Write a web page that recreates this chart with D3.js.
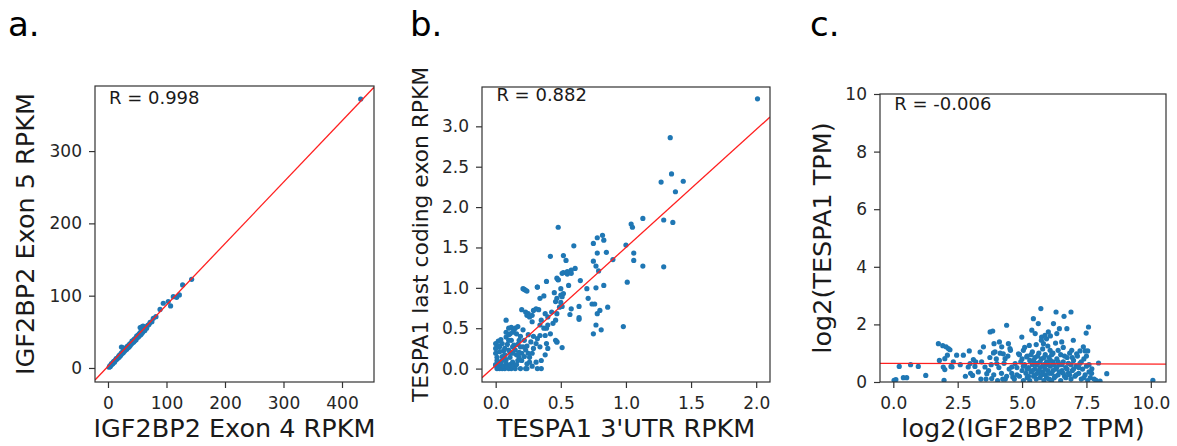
<!DOCTYPE html>
<html>
<head>
<meta charset="utf-8">
<title>Expression scatter panels</title>
<script src="https://cdnjs.cloudflare.com/ajax/libs/d3/7.8.5/d3.min.js"></script>
<style>
body { margin: 0; background: #fff; }
text { font-family: "DejaVu Sans", sans-serif; }
</style>
</head>
<body>
<script>
// ---- data ----
var panelLetters = ["a.", "b.", "c."];
var xLabels = ["IGF2BP2 Exon 4 RPKM", "TESPA1 3'UTR RPKM", "log2(IGF2BP2 TPM)"];
var yLabels = ["IGF2BP2 Exon 5 RPKM", "TESPA1 last coding exon RPKM", "log2(TESPA1 TPM)"];
var rLabels = ["R = 0.998", "R = 0.882", "R = -0.006"];

var aXTicks = [0, 100, 200, 300, 400];
var aYTicks = [0, 100, 200, 300];
var bXTicks = [0, 0.5, 1.0, 1.5, 2.0];
var bYTicks = [0, 0.5, 1.0, 1.5, 2.0, 2.5, 3.0];
var cXTicks = [0, 2.5, 5.0, 7.5, 10.0];
var cYTicks = [0, 2, 4, 6, 8, 10];

// fitted lines (slope, intercept)
var aFit = [0.849, 2.2];
var bFit = [1.46, 0.04];
var cFit = [-0.002, 0.645];

var aPoints = [[2,1],[3,3],[4,2],[5,4],[6,6],[7,5],[8,6],[9,8],[10,9],[11,8],[12,10],[13,11],[14,13],[15,12],
  [16,13],[17,14],[18,16],[19,15],[20,18],[21,17],[22,18],[23,21],[23,29],[24,20],[25,22],[26,21],[26,28],
  [27,24],[28,23],[29,26],[30,25],[31,27],[32,26],[33,30],[34,28],[35,31],[36,29],[37,33],[38,31],[39,34],
  [40,33],[41,37],[42,35],[43,38],[44,36],[45,40],[46,38],[47,41],[48,39],[49,44],[50,42],[51,45],[52,43],
  [53,47],[54,45],[55,49],[55,56],[56,46],[57,50],[58,48],[58,57],[59,53],[60,50],[60,58],[62,54],[63,52],
  [65,57],[66,55],[68,59],[70,60],[72,63],[75,64],[77.5,68.8],[82,71],[89,81],[94.5,89.5],[103,91.8],
  [107,85.8],[111.7,98.6],[117.4,97.7],[122,101],[127.6,114.8],[143,122.6],[432,372]];

var bPoints = [[2.01,3.34],[1.34,2.86],[1.35,2.41],[1.27,2.31],[1.44,2.32],[1.38,2.19],[1.29,1.84],[1.36,1.81],
  [1.13,1.86],[1.04,1.79],[1.05,1.75],[1.29,1.26],[1.13,1.27],[1.06,1.43],[1.06,1.34],[1.0,1.53],[1.01,1.07],
  [0.98,0.52],[0.9,1.35],[0.85,1.44],[0.82,1.65],[0.78,1.62],[0.83,1.59],[0.75,1.55],[0.78,1.43],[0.75,1.33],
  [0.77,1.27],[0.79,1.21],[0.83,1.03],[0.77,1.0],[0.7,0.99],[0.71,0.87],[0.74,0.8],[0.76,0.8],[0.8,0.72],
  [0.78,0.68],[0.86,0.76],[0.77,0.54],[0.75,0.43],[0.81,0.48],[0.48,1.75],[0.6,1.52],[0.52,1.4],[0.54,1.34],
  [0.42,1.39],[0.61,1.24],[0.52,1.19],[0.58,1.18],[0.55,1.17],[0.47,1.12],[0.48,1.1],[0.39,1.08],[0.65,1.09],
  [0.56,1.03],[0.5,0.99],[0.32,1.01],[0.22,0.98],[0.24,0.96],[0.45,0.94],[0.51,0.89],[0.37,0.9],[0.5,0.82],
  [0.58,0.74],[0.51,0.77],[0.64,0.77],[0.57,0.67],[0.64,0.63],[0.64,0.61],[0.46,0.35],[0.47,0.33],[0.51,0.26],
  [0.0,0.31],[0.02,0.34],[0.03,0.27],[0.0,0.19],[0.01,0.14],[0.03,0.08],[0.0,0.04],[0.06,0.22],[0.08,0.6],
  [0.08,0.39],[0.1,0.5],[0.11,0.43],[0.1,0.35],[0.12,0.51],[0.14,0.48],[0.15,0.5],[0.16,0.43],[0.17,0.52],
  [0.18,0.35],[0.19,0.27],[0.2,0.73],[0.21,0.99],[0.23,0.97],[0.23,0.7],[0.24,0.66],[0.25,0.68],[0.26,0.64],
  [0.28,0.66],[0.28,0.58],[0.29,0.72],[0.31,0.74],[0.33,0.73],[0.34,0.87],[0.32,1.01],[0.34,0.54],[0.35,0.6],
  [0.37,0.5],[0.38,0.41],[0.39,0.5],[0.4,0.54],[0.42,0.43],[0.44,0.56],[0.46,0.6],[0.47,0.68],[0.43,0.7],
  [0.4,0.64],[0.38,0.68],[0.34,0.41],[0.32,0.37],[0.31,0.31],[0.29,0.25],[0.28,0.19],[0.26,0.14],[0.25,0.19],
  [0.23,0.23],[0.21,0.27],[0.2,0.19],[0.18,0.14],[0.16,0.17],[0.15,0.23],[0.14,0.29],[0.13,0.19],[0.11,0.14],
  [0.1,0.23],[0.08,0.11],[0.07,0.17],[0.05,0.1],[0.05,0.31],[0.03,0.21],[0.31,0.08],[0.35,0.1],[0.24,0.06],
  [0.34,0.27],[0.39,0.31],[0.4,0.25],[0.38,0.17],[0.47,0.33],[0.49,0.76],[0.5,0.91],[0.52,0.93],[0.48,1.1],
  [0.46,0.83],[0.47,0.87],[0.51,1.18],[0.55,1.2],[0.58,1.22],
  [0.01,0.0],[0.03,0.0],[0.05,0.0],[0.07,0.0],[0.1,0.0],[0.12,0.0],[0.15,0.0],[0.19,0.0],[0.23,0.0],[0.24,0.0],
  [0.32,0.0],[0.35,0.0],[0.0,0.05],[0.01,0.1],[0.02,0.02],[0.04,0.05],[0.06,0.03],[0.08,0.06],[0.09,0.02],
  [0.11,0.05],[0.13,0.08],[0.14,0.03],[0.16,0.05],[0.17,0.1],[0.05,0.15],[0.07,0.25],[0.09,0.3],[0.12,0.35],
  [0.13,0.27],[0.11,0.2],[0.06,0.12],[0.02,0.28],[0.0,0.25],[0.04,0.36],[0.1,0.42],[0.13,0.45],[0.08,0.45],
  [0.17,0.3],[0.19,0.4],[0.22,0.35],[0.21,0.48],[0.25,0.42],[0.27,0.33],[0.29,0.4],[0.26,0.08],[0.28,0.03],
  [0.2,0.1],[0.22,0.15],[0.18,0.2],[0.24,0.28]];

var cPoints = [[0.03,0.06],[0.1,0.08],[0.23,0.54],[0.39,0.15],[0.52,0.15],[0.67,0.6],[0.97,0.54],[1.26,0.23],
  [1.75,1.33],[1.92,1.26],[2.05,1.22],[2.14,1.16],[2.2,1.12],[2.1,0.93],[1.79,0.75],[2.0,0.81],[1.94,0.52],
  [2.0,0.43],[1.97,0.06],[2.24,0.54],[2.33,0.7],[2.28,0.52],[2.46,0.93],[2.72,0.93],[2.95,1.08],[2.91,0.52],
  [2.98,0.64],[3.08,0.23],[3.11,0.78],[3.17,0.54],[3.37,1.04],[3.43,0.7],[3.5,1.22],[3.56,0.52],[3.63,0.29],
  [3.76,1.74],[3.86,1.77],[3.91,1.33],[3.89,1.01],[4.02,0.64],[3.82,0.12],[4.12,1.39],[4.21,1.22],[4.27,0.98],
  [4.34,0.81],[4.4,1.97],[4.47,1.33],[4.53,1.16],[4.6,0.52],[4.64,0.17],[4.73,0.64],[4.86,0.98],[4.99,1.56],
  [5.05,1.1],[5.18,0.87],[5.28,1.27],[5.38,1.8],[5.44,2.2],[5.51,1.68],[5.63,2.03],[5.73,2.55],[5.76,1.56],
  [5.83,1.33],[5.89,1.62],[6.02,1.74],[6.09,1.1],[6.22,2.03],[6.32,2.43],[6.35,1.68],[6.45,1.85],[6.54,1.39],
  [6.63,2.28],[6.74,1.85],[6.9,2.43],[6.93,1.1],[6.99,1.45],[7.12,0.98],[7.25,1.08],[7.38,1.22],[7.49,1.7],
  [7.58,1.91],[7.45,1.08],[7.55,1.08],[7.71,0.46],[7.97,0.66],[8.29,0.29],[7.87,0.06],[8.03,0.03],[10.08,0.06],
  [4.6,0.3],[4.7,0.1],[4.8,0.5],[4.9,0.2],[4.95,0.7],[5.0,0.4],[5.05,0.05],[5.1,0.6],[5.15,0.3],[5.2,0.9],
  [5.2,0.15],[5.25,0.5],[5.3,0.75],[5.3,0.05],[5.35,0.35],[5.4,1.05],[5.4,0.6],[5.45,0.2],[5.5,0.85],[5.5,0.45],
  [5.55,1.3],[5.55,0.1],[5.6,0.65],[5.6,0.3],[5.65,1.0],[5.7,0.5],[5.7,0.15],[5.75,1.45],[5.75,0.8],[5.8,0.35],
  [5.8,1.15],[5.85,0.6],[5.85,0.05],[5.9,0.95],[5.9,0.25],[5.95,1.5],[5.95,0.7],[6.0,0.4],[6.0,1.25],[6.05,0.1],
  [6.05,0.85],[6.1,0.55],[6.1,1.6],[6.15,0.3],[6.2,1.0],[6.2,0.7],[6.25,0.15],[6.3,0.45],[6.3,1.35],[6.35,0.8],
  [6.4,0.25],[6.4,1.1],[6.45,0.6],[6.5,0.05],[6.5,0.95],[6.55,0.4],[6.6,0.7],[6.6,1.2],[6.65,0.2],[6.7,0.5],
  [6.75,0.85],[6.8,0.3],[6.85,1.0],[6.9,0.6],[6.9,0.1],[6.95,0.4],[7.0,0.75],[7.05,0.2],[7.1,0.55],[7.15,0.9],
  [7.2,0.3],[7.25,0.65],[7.3,0.1],[7.35,0.45],[7.4,0.8],[7.45,0.25],[7.5,0.55],[7.55,0.05],[7.6,0.35],[7.65,0.15],
  [3.6,0.1],[3.7,0.4],[3.8,0.6],[3.9,0.25],[4.0,0.8],[4.05,0.05],[4.1,0.5],[4.2,0.3],[4.3,0.65],[4.35,0.1],
  [4.45,0.9],[4.5,0.45],[4.55,1.1],[3.3,0.35],[3.2,0.7],[3.4,0.1],[3.0,0.3],[2.8,0.2],[2.6,0.6],[3.75,0.85],
  [3.95,1.05],[4.15,1.0],[4.25,0.1],[4.4,0.2],
  [5.0,0.8],[5.1,1.2],[5.2,0.45],[5.35,0.95],[5.45,0.75],[5.5,0.25],[5.6,0.9],[5.65,0.4],[5.7,0.7],[5.8,0.55],
  [5.85,0.85],[5.9,0.45],[6.0,0.6],[6.05,0.3],[6.1,0.75],[6.15,0.95],[6.2,0.4],[6.25,0.6],[6.3,0.2],[6.35,0.5],
  [6.45,0.35],[6.55,0.6],[6.6,0.3],[6.7,0.15],[6.75,0.45],[6.8,0.65],[6.85,0.25],[7.0,0.45],[7.1,0.25],[7.2,0.5],
  [7.3,0.7],[7.4,0.15],[4.9,0.95],[4.8,0.25],[5.05,0.55],[5.25,0.2],[5.4,0.4],[5.55,0.6],[5.75,0.25],[5.95,0.15],
  [6.15,0.05],[6.4,0.7],[6.65,0.9],[6.95,0.85],[7.5,0.9],[7.6,0.6],[7.7,0.3],[7.8,0.1]];

// ---- layout ----
var panels = [
  {id: "a", pts: aPoints, fit: aFit, xTicks: aXTicks, yTicks: aYTicks, xFmt: d3.format("d"), yFmt: d3.format("d"),
   xDomain: [-22.2, 454.7], yDomain: [-19.4, 390], left: 95, right: 374, top: 86, bottom: 382,
   letterX: 8, ylabX: 34, ylabSize: 25.5, rY: 104},
  {id: "b", pts: bPoints, fit: bFit, xTicks: bXTicks, yTicks: bYTicks, xFmt: d3.format(".1f"), yFmt: d3.format(".1f"),
   xDomain: [-0.105, 2.106], yDomain: [-0.166, 3.487], left: 482, right: 770, top: 87, bottom: 382,
   letterX: 410, ylabX: 428, ylabSize: 21.8, rY: 101},
  {id: "c", pts: cPoints, fit: cFit, xTicks: cXTicks, yTicks: cYTicks, xFmt: d3.format(".1f"), yFmt: d3.format("d"),
   xDomain: [-0.517, 10.59], yDomain: [0, 10], left: 880, right: 1166, top: 94, bottom: 382,
   letterX: 810, ylabX: 831, ylabSize: 25.5, rY: 110}
];

var svg = d3.select("body").append("svg")
  .attr("width", 1177)
  .attr("height", 446);

panels.forEach(function(p, i) {
  var x = d3.scaleLinear().domain(p.xDomain).range([p.left, p.right]);
  var y = d3.scaleLinear().domain(p.yDomain).range([p.bottom, p.top]);
  var g = svg.append("g");

  g.append("clipPath").attr("id", "clip-" + p.id)
    .append("rect")
    .attr("x", p.left).attr("y", p.top)
    .attr("width", p.right - p.left).attr("height", p.bottom - p.top);

  var plot = g.append("g").attr("clip-path", "url(#clip-" + p.id + ")");

  plot.selectAll("circle")
    .data(p.pts)
    .enter()
      .append("circle")
      .attr("cx", function(d){ return x(d[0]); })
      .attr("cy", function(d){ return y(d[1]); })
      .attr("r", 2.6)
      .attr("fill", "#1f77b4");

  var x0 = p.xDomain[0], x1 = p.xDomain[1];
  plot.append("line")
    .attr("x1", x(x0)).attr("y1", y(p.fit[1] + p.fit[0] * x0))
    .attr("x2", x(x1)).attr("y2", y(p.fit[1] + p.fit[0] * x1))
    .attr("stroke", "#ff2020")
    .attr("stroke-width", 1.3);

  var xAxis = g.append("g")
    .attr("transform", "translate(0," + p.bottom + ")")
    .call(d3.axisBottom(x).tickValues(p.xTicks).tickFormat(p.xFmt).tickSize(6).tickPadding(9));
  var yAxis = g.append("g")
    .attr("transform", "translate(" + p.left + ",0)")
    .call(d3.axisLeft(y).tickValues(p.yTicks).tickFormat(p.yFmt).tickSize(6).tickPadding(7));

  [xAxis, yAxis].forEach(function(ax) {
    ax.select(".domain").remove();
    ax.attr("font-size", 17).attr("font-family", "DejaVu Sans, sans-serif");
    ax.selectAll(".tick line").attr("stroke", "#333").attr("stroke-width", 1.2);
    ax.selectAll(".tick text").attr("fill", "#262626");
  });

  g.append("rect")
    .attr("x", p.left).attr("y", p.top)
    .attr("width", p.right - p.left).attr("height", p.bottom - p.top)
    .attr("fill", "none")
    .attr("stroke", "#333")
    .attr("stroke-width", 1.2);

  g.append("text")
    .attr("x", p.left + 0.05 * (p.right - p.left))
    .attr("y", p.rY)
    .attr("font-size", 18)
    .attr("fill", "#1a1a1a")
    .text(rLabels[i]);

  g.append("text")
    .attr("x", (p.left + p.right) / 2)
    .attr("y", 437)
    .attr("text-anchor", "middle")
    .attr("font-size", 25.5)
    .attr("fill", "#1a1a1a")
    .text(xLabels[i]);

  g.append("text")
    .attr("transform", "translate(" + p.ylabX + "," + ((p.top + p.bottom) / 2) + ") rotate(-90)")
    .attr("text-anchor", "middle")
    .attr("font-size", p.ylabSize)
    .attr("fill", "#1a1a1a")
    .text(yLabels[i]);

  g.append("text")
    .attr("x", p.letterX)
    .attr("y", 36)
    .attr("font-size", 34)
    .attr("fill", "#000")
    .text(panelLetters[i]);
});
</script>
</body>
</html>
